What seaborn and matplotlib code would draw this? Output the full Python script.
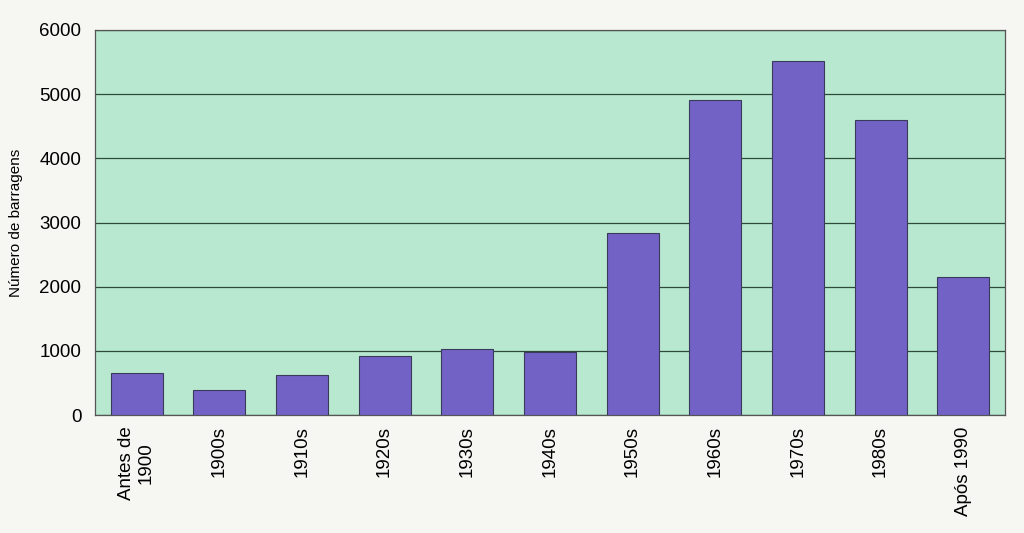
import matplotlib
matplotlib.use("Agg")
import matplotlib.pyplot as plt
import seaborn as sns
import pandas as pd
import numpy as np

categories = ["Antes de\n1900", "1900s", "1910s", "1920s", "1930s", "1940s",
              "1950s", "1960s", "1970s", "1980s", "Após 1990"]
values = [650, 390, 620, 920, 1030, 980, 2830, 4900, 5520, 4590, 2150]
yticks = [0, 1000, 2000, 3000, 4000, 5000, 6000]

df = pd.DataFrame({"cat": categories, "val": values})

sns.set_style("white")
plt.rcParams['font.family'] = ['Liberation Sans', 'DejaVu Sans']
plt.rcParams['text.color'] = 'black'

fig = plt.figure(figsize=(10.24, 5.33), dpi=100, facecolor="#f6f6f3")
ax = fig.add_axes([0.093, 0.221, 0.888, 0.723])
ax.set_facecolor("#b8e8cf")

sns.barplot(data=df, x="cat", y="val", color="#7262c6", saturation=1,
            width=0.63, edgecolor="#3a3a5a", linewidth=0.8, ax=ax, zorder=3)

ax.set_ylim(0, 6000)
ax.set_yticks(yticks)
ax.set_yticklabels([str(t) for t in yticks], fontsize=13.5, color="black")
ax.yaxis.grid(True, color="#2e4a3a", linewidth=0.9, zorder=0)
ax.set_axisbelow(True)
ax.set_xlabel("")
ax.set_ylabel("Número de barragens", fontsize=11, color="black", labelpad=12)
ax.tick_params(axis="x", which="major", labelrotation=90, labelsize=13.5,
               labelcolor="black", length=0, pad=8)
ax.set_xticks(np.arange(len(categories) - 1) + 0.5, minor=True)
ax.tick_params(axis="x", which="minor", direction="in", length=4,
               color="#555555", width=0.8)
ax.tick_params(axis="y", length=0, pad=10)
for s in ax.spines.values():
    s.set_color("#555555")
    s.set_linewidth(0.9)

fig.savefig("out.png", dpi=100, facecolor=fig.get_facecolor())
